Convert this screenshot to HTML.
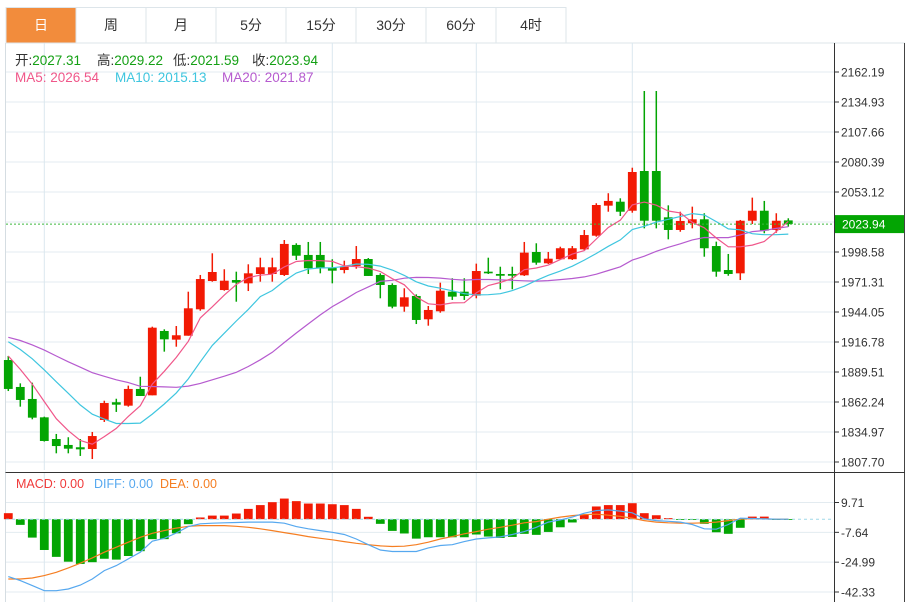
<!DOCTYPE html>
<html><head><meta charset="utf-8">
<style>
body{margin:0;background:#fff;width:911px;height:602px;overflow:hidden;font-family:"Liberation Sans","Noto Sans CJK SC",sans-serif;}
svg{display:block}
</style></head>
<body>
<svg id="c" width="911" height="602" xmlns="http://www.w3.org/2000/svg" font-family="Liberation Sans, Noto Sans CJK SC, sans-serif"></svg>
<script>
const tabs=["日","周","月","5分","15分","30分","60分","4时"];
const priorCloses=[1922,1928,1920,1930,1925,1918,1932,1926,1924,1925,1935,1932,1928,1930,1925,1925,1915,1906,1900];
const opens=[1900.4,1875.9,1865.0,1848.3,1828.6,1823.2,1821.1,1819.5,1845.9,1862.0,1858.9,1874.1,1868.3,1926.8,1918.9,1922.5,1946.5,1972.2,1964.0,1973.1,1970.1,1978.6,1978.6,1977.7,2005.0,1995.9,1995.9,1984.0,1982.2,1985.9,1992.2,1977.7,1968.6,1948.9,1958.6,1937.4,1944.7,1962.5,1962.5,1958.9,1980.7,1978.6,1978.6,1977.4,1998.6,1988.3,1992.0,1992.0,2001.0,2013.4,2040.7,2044.3,2036.1,2072.2,2072.2,2030.1,2018.6,2024.7,2028.3,2004.0,1982.2,1979.2,2027.0,2036.1,2018.6,2027.31];
const highs=[1904.1,1879.2,1879.8,1848.9,1833.2,1830.2,1828.6,1835.0,1863.4,1865.2,1877.1,1885.2,1930.7,1928.3,1931.3,1962.5,1977.7,1997.4,1982.9,1980.7,1987.4,1993.4,1993.4,2009.5,2006.5,2007.7,2007.7,1992.0,1990.7,2004.0,1993.1,1979.2,1970.1,1965.6,1960.1,1949.5,1970.7,1974.7,1974.7,1988.0,1993.4,1985.2,1985.2,2007.7,2006.5,1998.6,2003.4,2004.0,2018.6,2042.9,2052.0,2047.4,2075.2,2144.9,2144.9,2041.0,2035.2,2039.8,2033.8,2008.0,1996.8,2027.7,2048.0,2045.0,2033.8,2029.22];
const lows=[1872.2,1858.0,1846.5,1826.3,1815.6,1815.6,1813.2,1810.4,1844.1,1853.2,1858.0,1867.7,1868.3,1908.0,1912.5,1922.5,1945.2,1971.6,1963.4,1953.4,1963.1,1971.6,1971.6,1976.8,1991.3,1978.6,1979.2,1970.1,1979.2,1983.4,1976.8,1956.5,1947.4,1944.3,1933.1,1931.6,1943.4,1955.0,1955.0,1956.5,1978.6,1964.7,1964.7,1976.8,1987.0,1987.7,1991.3,1991.3,2000.4,2012.5,2035.2,2031.3,2034.3,2020.1,2020.1,2010.1,2017.0,2020.1,1994.3,1976.1,1977.0,1973.1,2024.0,2015.6,2016.1,2021.59];
const closes=[1874.1,1864.1,1848.0,1826.8,1822.2,1819.8,1819.2,1831.3,1861.3,1859.8,1874.1,1867.7,1929.8,1919.2,1922.9,1947.4,1974.0,1980.4,1972.5,1970.7,1979.2,1984.7,1984.7,2005.9,1995.2,1983.8,1983.8,1981.6,1985.2,1992.2,1976.8,1968.6,1948.9,1957.4,1936.8,1945.9,1963.4,1958.0,1958.6,1981.3,1979.2,1977.0,1977.0,1998.0,1988.9,1992.5,2002.0,2002.0,2014.0,2041.3,2045.0,2035.2,2071.3,2027.0,2027.0,2018.6,2026.8,2028.3,2002.0,1980.7,1978.6,2027.0,2036.1,2018.0,2027.0,2023.94];
const macdHist=[3.5,-3.3,-10.7,-17.9,-21.9,-24.7,-26,-25,-23,-23.5,-21.4,-18.6,-11.6,-11.6,-8.2,-2.9,1,2.1,2.1,3.3,6,8.2,9.9,12,10.5,9.1,9.1,8.7,8.2,6,1.4,-2.7,-6.8,-8.3,-11.3,-10.5,-10.5,-10.5,-10.5,-8.9,-10.1,-10.9,-10.3,-8.5,-9.1,-7.4,-4.7,-1.9,2.5,7.4,8.2,8.2,9.3,3.5,2.3,0.6,-0.3,-0.3,-2.7,-7.6,-8.5,-5,1.5,1.5,-0.2,-0.2];
const diffVals=[-33.4,-35.7,-38.6,-41.6,-41.6,-40.6,-38.3,-34.8,-29.9,-27,-23.1,-19.2,-12.8,-11.1,-8,-4.3,-2.7,-2.3,-2.1,-1.9,-1.7,-1.7,-1.7,-2.3,-4.3,-5.6,-6.6,-7.6,-8.9,-11.5,-14.8,-17.9,-18.8,-18.8,-18.8,-16.7,-15.3,-14.8,-13,-11.5,-10.9,-10.3,-8.9,-7.2,-4.7,-1.7,-0.4,1.2,3.5,5,5.4,4.7,3.7,0.2,-0.8,-1.2,-1.7,-3.1,-5.6,-5.8,-3.1,0.6,0.4,0.2,0,0];
const deaVals=[-34.8,-34.8,-34.2,-32.8,-30.9,-28.3,-25.6,-22.5,-19.2,-16.3,-13.4,-10.5,-8.2,-6.6,-5.2,-4.1,-3.7,-3.7,-3.7,-4.1,-4.7,-5.6,-6.6,-7.8,-8.9,-10.1,-11.1,-12,-13,-14,-14.8,-15.5,-15.9,-15.7,-14.8,-13.4,-11.5,-10.1,-8.5,-7.2,-5.8,-4.7,-3.5,-2.1,-1.4,0,1.2,2.1,2.7,2.9,2.3,1.6,0.6,-0.8,-1.7,-2.1,-2.3,-2.3,-2.1,-1.7,-0.8,0,0.4,0.2,0,0];
const priceTicks=["2162.19","2134.93","2107.66","2080.39","2053.12","2025.85","1998.58","1971.31","1944.05","1916.78","1889.51","1862.24","1834.97","1807.70"];
const macdTicks=[9.71,-7.64,-24.99,-42.33];
const gridCandles=[3,27,39,52];

const NS="http://www.w3.org/2000/svg";
const svg=document.getElementById('c');
function el(tag,attrs,parent){const e=document.createElementNS(NS,tag);for(const k in attrs)e.setAttribute(k,attrs[k]);(parent||svg).appendChild(e);return e;}
const RED="#f21a04",GREEN="#03a503";
const PMAX=2162.19,PMIN=1807.70,PY0=72,PY1=462;
function py(p){return PY0+(PMAX-p)/(PMAX-PMIN)*(PY1-PY0);}
const MMAX=9.71,MMIN=-42.33,MY0=502.5,MY1=592;
function my(v){return MY0+(MMAX-v)/(MMAX-MMIN)*(MY1-MY0);}
function xc(i){return 8.3+12*i;}

const tabG=el('g',{});


tabs.forEach((t,i)=>{
  const g=el('g',{},tabG);
  
  
  const x=6+70*i;
  el('rect',{x:x,y:7.5,width:70,height:35.5,fill:i==0?"#f28c3c":"#fff",stroke:"#dde5ea","stroke-width":1},g);
  const tx=el('text',{x:x+35,y:30,"text-anchor":"middle","font-size":14,fill:i==0?"#fff":"#333"},g);
  tx.textContent=t;
});
el('line',{x1:5.5,y1:43,x2:905,y2:43,stroke:"#dde5ea"});
el('line',{x1:5.5,y1:43,x2:5.5,y2:602,stroke:"#d5dde2"});
el('line',{x1:904.5,y1:43,x2:904.5,y2:602,stroke:"#444"});
el('line',{x1:5.5,y1:472.5,x2:905,y2:472.5,stroke:"#333"});
el('line',{x1:834.5,y1:43,x2:834.5,y2:602,stroke:"#333"});
for(let k=0;k<priceTicks.length;k++){const y=PY0+k*30;el('line',{x1:6,y1:y,x2:834,y2:y,stroke:"#e3ebf0"});}
macdTicks.forEach(v=>{el('line',{x1:6,y1:my(v),x2:834,y2:my(v),stroke:"#e3ebf0"});});
gridCandles.forEach(i=>{const x=xc(i);el('line',{x1:x,y1:43,x2:x,y2:470,stroke:"#dbe7ef"});el('line',{x1:x,y1:473,x2:x,y2:602,stroke:"#dbe7ef"});});
priceTicks.forEach((t,k)=>{const y=PY0+k*30;el('line',{x1:834,y1:y,x2:839,y2:y,stroke:"#333"});
  const tx=el('text',{x:841,y:y+4.5,"font-size":12,fill:"#333"});tx.textContent=t;});
macdTicks.forEach(v=>{const y=my(v);el('line',{x1:834,y1:y,x2:839,y2:y,stroke:"#333"});
  const tx=el('text',{x:841,y:y+4.5,"font-size":12,fill:"#333"});tx.textContent=v.toFixed(2);});

const all=priorCloses.concat(closes);
function ma(n){return closes.map((c,i)=>{let s=0;const j=i+priorCloses.length;for(let k=j-n+1;k<=j;k++)s+=all[k];return s/n;});}
function poly(vals,fn,color,name){const pts=vals.map((v,i)=>xc(i).toFixed(1)+","+fn(v).toFixed(1)).join(" ");const p=el('polyline',{points:pts,fill:"none",stroke:color,"stroke-width":1.2});}
const cg=el('g',{});


closes.forEach((c,i)=>{
  const o=opens[i],up=c>=o,col=up?RED:GREEN,x=xc(i);
  const g=el('g',{},cg);
  
  
  el('line',{x1:x,y1:py(highs[i]),x2:x,y2:py(lows[i]),stroke:col,"stroke-width":1.5},g);
  const t=py(Math.max(o,c)),b=py(Math.min(o,c));
  el('rect',{x:x-4.4,y:t,width:8.8,height:Math.max(1.5,b-t),fill:col},g);
});
poly(ma(20),py,"#b65bcf","ma20-line");
poly(ma(10),py,"#3fc6df","ma10-line");
poly(ma(5),py,"#f0578a","ma5-line");
const last=closes[closes.length-1];
el('line',{x1:6,y1:py(last),x2:834,y2:py(last),stroke:"#3cb83c","stroke-dasharray":"2,2","stroke-width":1});
const pb=el('g',{});
el('rect',{x:835,y:py(last)-9,width:69,height:18,fill:"#03a503"},pb);
const pt=el('text',{x:842,y:py(last)+4.5,"font-size":12,fill:"#fff"},pb);pt.textContent=last.toFixed(2);

const z=my(0);
macdHist.forEach((v,i)=>{const r=el('rect',{x:xc(i)-4.4,y:Math.min(my(v),z),width:8.8,height:Math.max(0.8,Math.abs(my(v)-z)),fill:v>=0?RED:GREEN});
  });
el('line',{x1:6,y1:z,x2:834,y2:z,stroke:"#9fd8e8","stroke-dasharray":"3,3"});
poly(deaVals,my,"#f57e22","dea-line");
poly(diffVals,my,"#56a8ef","diff-line");

function txt(x,y,s,col,size,name){const t=el('text',{x:x,y:y,"font-size":size,fill:col});t.textContent=s;return t;}
const info=[["开:","2027.31",15],["高:","2029.22",97],["低:","2021.59",173],["收:","2023.94",252]];
info.forEach(a=>{const t=el('text',{x:a[2],y:65,"font-size":13.5});
  const s1=el('tspan',{fill:"#333"},t);s1.textContent=a[0];const s2=el('tspan',{fill:"#14a014"},t);s2.textContent=a[1];});
txt(15,82,"MA5: 2026.54","#f0578a",13.5,"ma5-legend");
txt(115,82,"MA10: 2015.13","#3fc6df",13.5,"ma10-legend");
txt(222,82,"MA20: 2021.87","#b65bcf",13.5,"ma20-legend");
txt(16,488,"MACD: 0.00","#f03a3a",12.5,"macd-legend");
txt(94,488,"DIFF: 0.00","#56a8ef",12.5,"diff-legend");
txt(160,488,"DEA: 0.00","#f57e22",12.5,"dea-legend");
</script>
</body></html>
